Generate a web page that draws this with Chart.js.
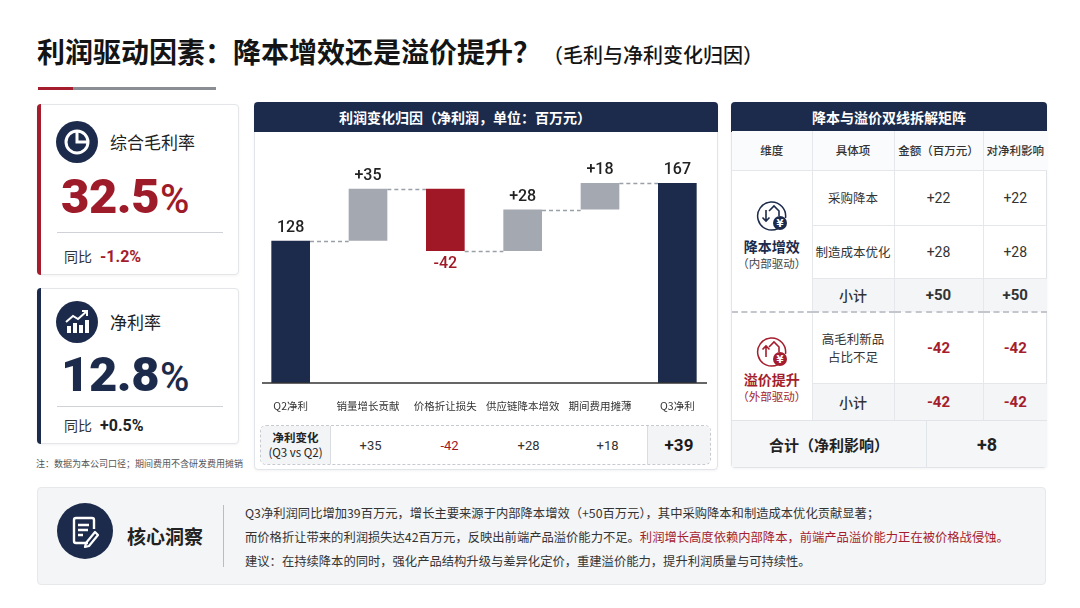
<!DOCTYPE html>
<html lang="zh-CN">
<head>
<meta charset="utf-8">
<script src="https://cdn.jsdelivr.net/npm/chart.js@4.4.1/dist/chart.umd.min.js"></script>
<style>
* { box-sizing: border-box; margin: 0; padding: 0; }
body {
  width: 1080px; height: 608px; background: #fff; position: relative; overflow: hidden;
  font-family: "Noto Sans CJK SC", "Noto Sans", sans-serif; color: #222;
}
.abs { position: absolute; }
.title { left: 37px; top: 31px; font-size: 28px; font-weight: 700; color: #141414; white-space: nowrap; line-height: 40px; }
.title span { font-size: 20px; font-weight: 500; margin-left: 2px; }
.card { background: #fff; border: 1px solid #e4e6ea; border-radius: 4px; box-shadow: 0 1px 3px rgba(0,0,0,.05); }
.card .bar { position: absolute; left: -1px; top: -1px; bottom: -1px; width: 4px; border-radius: 4px 0 0 4px; }
.klabel { font-size: 17px; color: #222; line-height: 22px; }
.kval { font-family: Roboto, Inter, sans-serif; font-weight: 700; line-height: 50px; white-space: nowrap; letter-spacing: -0.5px; }
.kval b { font-size: 49px; }
.kval i { font-style: normal; font-size: 40px; font-weight: 500; margin-left: 1px; }
.kline { height: 1px; background: #cfd2d7; }
.kyoy { font-size: 14px; color: #333; line-height: 20px; white-space: nowrap; }
.kyoy b { font-family: Roboto, Inter, sans-serif; font-size: 16px; margin-left: 8px; }
.note { left: 36px; top: 457px; font-size: 9px; color: #555; white-space: nowrap; }
.panel { border: 1px solid #e1e4e8; border-radius: 4px; background: #fff; box-shadow: 0 1px 3px rgba(0,0,0,.05); }
.phead { position: absolute; left: -1px; right: -1px; top: -1px; height: 30px; background: #1c2b4b; border-radius: 4px 4px 0 0; color: #fff; font-weight: 700; font-size: 14px; line-height: 30px; white-space: nowrap; }
#netrow { left: 260px; top: 425px; width: 451px; height: 40px; border: 1px dashed #c6c9cf; border-radius: 6px; display: flex; overflow: hidden; }
#netrow div { display: flex; align-items: center; justify-content: center; font-family: Roboto, Inter, "Noto Sans CJK SC", sans-serif; font-size: 13px; color: #333; }
#netrow .lab { width: 70px; background: #f3f4f6; border-right: 1px solid #d9dce0; font-family: "Noto Sans CJK SC", sans-serif; font-size: 11.5px; line-height: 15px; text-align: center; flex-direction: column; color: #222; }
#netrow .lab b { font-weight: 700; }
#netrow .tot { width: 63px; background: #f3f4f6; border-left: 1px solid #d9dce0; font-weight: 700; font-size: 17px; color: #1b1b1b; }
#mx { left: 732px; top: 131px; width: 315px; }
#mx table { border-collapse: collapse; width: 315px; table-layout: fixed; }
#mx th, #mx td { border: 1px solid #e5e7ea; text-align: center; vertical-align: middle; font-size: 12.5px; color: #333; padding: 0; }
#mx tr > *:first-child { border-left: none; }
#mx tr > *:last-child { border-right: none; }
#mx th { font-weight: 500; font-size: 11.5px; background: #fafbfc; border-top: none; }
#mx td.num { font-family: Roboto, Inter, sans-serif; font-size: 14px; }
#mx td.b { font-weight: 700; font-size: 15px; }
#mx .sub td { background: #f4f5f7; }
#mx .sub td.lbl { font-size: 14px; font-weight: 500; }
#mx .red { color: #a51d2d; }
#mx td.dim { vertical-align: top; background: #fff; }
#mx tr.g2 td { border-top: 2px dashed #c3c6cc; }
.dname { font-size: 14px; font-weight: 700; line-height: 18px; }
.dsub { font-size: 11.5px; line-height: 16px; color: #444; }
#mxtot { left: 732px; top: 420px; width: 315px; height: 47px; display: flex; border-top: 1px solid #e1e4e8; }
#mxtot div { display: flex; align-items: center; justify-content: center; background: #f5f6f8; }
.insight { left: 37px; top: 487px; width: 1009px; height: 98px; background: #f4f5f7; border: 1px solid #e6e8eb; border-radius: 4px; }
.itext { left: 245px; top: 501px; font-size: 12.3px; line-height: 24px; color: #333; white-space: nowrap; }
.itext .red { color: #a51d2d; }
</style>
</head>
<body>

<div class="abs title">利润驱动因素：降本增效还是溢价提升？<span>（毛利与净利变化归因）</span></div>
<div class="abs" style="left:38px;top:87px;width:35px;height:3px;background:#a51d2d;"></div>
<div class="abs" style="left:73px;top:87px;width:143px;height:3px;background:#8a8d93;"></div>

<!-- KPI cards -->
<div class="abs card" style="left:37px;top:104px;width:202px;height:171px;">
  <div class="bar" style="background:#a51d2d;"></div>
</div>
<svg class="abs" style="left:56px;top:121px;" width="42" height="42" viewBox="0 0 42 42">
  <circle cx="21" cy="21" r="21" fill="#1c2b4b"/>
  <circle cx="21" cy="21" r="11" fill="none" stroke="#fff" stroke-width="3"/>
  <path d="M21 10V21H32" fill="none" stroke="#fff" stroke-width="3"/>
</svg>
<div class="abs klabel" style="left:110px;top:131px;">综合毛利率</div>
<div class="abs kval" style="left:61px;top:172px;color:#9e1b2a;"><b>32.5</b><i>%</i></div>
<div class="abs kline" style="left:57px;top:232px;width:166px;"></div>
<div class="abs kyoy" style="left:64px;top:246px;">同比<b style="color:#a51d2d;">-1.2%</b></div>

<div class="abs card" style="left:37px;top:288px;width:202px;height:156px;">
  <div class="bar" style="background:#1c2b4b;"></div>
</div>
<svg class="abs" style="left:56px;top:301px;" width="42" height="42" viewBox="0 0 42 42">
  <circle cx="21" cy="21" r="21" fill="#1c2b4b"/>
  <rect x="11" y="25" width="4" height="7" fill="#fff"/>
  <rect x="17" y="22" width="4" height="10" fill="#fff"/>
  <rect x="23" y="24" width="4" height="8" fill="#fff"/>
  <rect x="29" y="19" width="4" height="13" fill="#fff"/>
  <path d="M10 21L17 15L22 18L31 10" fill="none" stroke="#fff" stroke-width="2"/>
  <path d="M26 10H31V15" fill="none" stroke="#fff" stroke-width="2"/>
</svg>
<div class="abs klabel" style="left:110px;top:311px;">净利率</div>
<div class="abs kval" style="left:61px;top:350px;color:#1c2b4b;"><b>12.8</b><i>%</i></div>
<div class="abs kline" style="left:57px;top:406px;width:166px;"></div>
<div class="abs kyoy" style="left:64px;top:415px;">同比<b style="color:#222;">+0.5%</b></div>

<div class="abs note">注：数据为本公司口径；期间费用不含研发费用摊销</div>

<!-- waterfall panel -->
<div class="abs panel" style="left:254px;top:102px;width:464px;height:368px;">
  <div class="phead" style="padding-left:85px;">利润变化归因（净利润，单位：百万元）</div>
</div>
<canvas id="wf" class="abs" style="left:252px;top:134px;width:464px;height:279px;"></canvas>
<div class="abs" id="netrow"></div>

<!-- matrix panel -->
<div class="abs panel" style="left:731px;top:102px;width:316px;height:366px;">
  <div class="phead" style="text-align:center;">降本与溢价双线拆解矩阵</div>
</div>
<div class="abs" id="mx">
<table>
  <colgroup><col style="width:80px"><col style="width:82px"><col style="width:89px"><col style="width:64px"></colgroup>
  <tr style="height:39px"><th>维度</th><th>具体项</th><th>金额（百万元）</th><th>对净利影响</th></tr>
  <tr style="height:55px">
    <td rowspan="3" class="dim" style="padding-top:28px;">
      <svg width="32" height="32" viewBox="0 0 32 32" style="display:block;margin:0 auto;">
        <path d="M22 29.5A14 14 0 1 1 29.5 19" fill="none" stroke="#1c2b4b" stroke-width="1.5"/>
        <path d="M10 11V22M6.5 18.5L10 22L13.5 18.5" fill="none" stroke="#1c2b4b" stroke-width="1.6"/>
        <path d="M13 12L18 7L23 12V17" fill="none" stroke="#1c2b4b" stroke-width="1.6"/>
        <circle cx="24" cy="24" r="7" fill="#1c2b4b"/>
        <text x="24" y="27.5" text-anchor="middle" font-size="10" font-weight="700" fill="#fff" font-family="DejaVu Sans">¥</text>
      </svg>
      <div class="dname" style="color:#1c2b4b;margin-top:6px;">降本增效</div>
      <div class="dsub">（内部驱动）</div>
    </td>
    <td>采购降本</td><td class="num">+22</td><td class="num">+22</td>
  </tr>
  <tr style="height:53px"><td>制造成本优化</td><td class="num">+28</td><td class="num">+28</td></tr>
  <tr class="sub" style="height:34px"><td class="lbl">小计</td><td class="num b">+50</td><td class="num b">+50</td></tr>
  <tr class="g2" style="height:71px">
    <td rowspan="2" class="dim" style="padding-top:22px;">
      <svg width="32" height="32" viewBox="0 0 32 32" style="display:block;margin:0 auto;">
        <path d="M22 29.5A14 14 0 1 1 29.5 19" fill="none" stroke="#a51d2d" stroke-width="1.5"/>
        <path d="M10 22V11M6.5 14.5L10 11L13.5 14.5" fill="none" stroke="#a51d2d" stroke-width="1.6"/>
        <path d="M13 12L18 7L23 12V17" fill="none" stroke="#a51d2d" stroke-width="1.6"/>
        <circle cx="24" cy="24" r="7" fill="#a51d2d"/>
        <text x="24" y="27.5" text-anchor="middle" font-size="10" font-weight="700" fill="#fff" font-family="DejaVu Sans">¥</text>
      </svg>
      <div class="dname" style="color:#a51d2d;margin-top:3px;">溢价提升</div>
      <div class="dsub" style="color:#a51d2d;">（外部驱动）</div>
    </td>
    <td style="line-height:18px;">高毛利新品<br>占比不足</td><td class="num b red">-42</td><td class="num b red">-42</td>
  </tr>
  <tr class="sub" style="height:37px"><td class="lbl">小计</td><td class="num b red">-42</td><td class="num b red">-42</td></tr>
</table>
</div>
<div class="abs" id="mxtot">
  <div style="width:195px;font-size:15px;font-weight:700;color:#222;border-right:1px solid #e1e4e8;">合计（净利影响）</div>
  <div style="width:120px;font-family:Roboto,Inter,sans-serif;font-size:18px;font-weight:700;color:#222;">+8</div>
</div>

<!-- insight -->
<div class="abs insight"></div>
<svg class="abs" style="left:57px;top:503px;" width="56" height="56" viewBox="0 0 56 56">
  <circle cx="28" cy="28" r="28" fill="#1c2b4b"/>
  <path d="M31 40H19a2 2 0 0 1-2-2V17a2 2 0 0 1 2-2h16a2 2 0 0 1 2 2v9" fill="none" stroke="#fff" stroke-width="2.4"/>
  <path d="M21 22H32M21 27H31M21 32H26" stroke="#fff" stroke-width="2.4"/>
  <path d="M29 40L38 29L41 32L32 43L28 44Z" fill="none" stroke="#fff" stroke-width="2.2" stroke-linejoin="round"/>
</svg>
<div class="abs" style="left:127px;top:523px;font-size:19px;font-weight:700;color:#222;line-height:26px;">核心洞察</div>
<div class="abs" style="left:223px;top:505px;width:1px;height:62px;background:#b9bcc2;"></div>
<div class="abs itext">
  Q3净利润同比增加39百万元，增长主要来源于内部降本增效（+50百万元），其中采购降本和制造成本优化贡献显著；<br>
  而价格折让带来的利润损失达42百万元，反映出前端产品溢价能力不足。<span class="red">利润增长高度依赖内部降本，前端产品溢价能力正在被价格战侵蚀。</span><br>
  建议：在持续降本的同时，强化产品结构升级与差异化定价，重建溢价能力，提升利润质量与可持续性。
</div>

<script>
// waterfall data (百万元)
const categories = ["Q2净利", "销量增长贡献", "价格折让损失", "供应链降本增效", "期间费用摊薄", "Q3净利"];
const startProfit = 128;
const deltas = [35, -42, 28, 18];
const endProfit = 167;
const netChange = 39;

const Y_MIN = 32;
const Y_MAX = 200;

const NAVY = "#1c2b4b";
const GREY = "#a3a8b1";
const RED = "#a01826";
const FONT = '"Noto Sans CJK SC", "Noto Sans", sans-serif';

// floating ranges + running levels
const ranges = [[Y_MIN, startProfit]];
const levels = [startProfit];
let running = startProfit;
deltas.forEach((d) => {
  const next = running + d;
  ranges.push([Math.min(running, next), Math.max(running, next)]);
  running = next;
  levels.push(running);
});
ranges.push([Y_MIN, endProfit]);
levels.push(endProfit);

const labels = [String(startProfit)]
  .concat(deltas.map((d) => (d > 0 ? "+" + d : String(d))))
  .concat([String(endProfit)]);
const colors = [NAVY].concat(deltas.map((d) => (d > 0 ? GREY : RED))).concat([NAVY]);

const waterfallDecor = {
  id: "waterfallDecor",
  afterDatasetsDraw(chart) {
    const ctx = chart.ctx;
    const bars = chart.getDatasetMeta(0).data;
    const y = chart.scales.y;
    const area = chart.chartArea;

    // connectors
    ctx.save();
    ctx.strokeStyle = "#9aa0a8";
    ctx.lineWidth = 1.3;
    ctx.setLineDash([4, 3]);
    for (let i = 0; i < bars.length - 1; i++) {
      const py = Math.round(y.getPixelForValue(levels[i])) + 0.5;
      ctx.beginPath();
      ctx.moveTo(bars[i].x + bars[i].width / 2, py);
      ctx.lineTo(bars[i + 1].x - bars[i + 1].width / 2, py);
      ctx.stroke();
    }
    ctx.restore();

    // baseline
    ctx.save();
    ctx.strokeStyle = "#333";
    ctx.lineWidth = 1.5;
    ctx.beginPath();
    ctx.moveTo(area.left + 10, area.bottom);
    ctx.lineTo(area.right - 9, area.bottom);
    ctx.stroke();
    ctx.restore();

    // value labels
    ctx.save();
    ctx.font = "500 16px Roboto, Inter, sans-serif";
    ctx.textAlign = "center";
    ctx.textBaseline = "middle";
    bars.forEach((bar, i) => {
      const isNeg = i > 0 && i <= deltas.length && deltas[i - 1] < 0;
      ctx.fillStyle = isNeg ? RED : "#222";
      const top = Math.min(bar.y, bar.base);
      const bottom = Math.max(bar.y, bar.base);
      ctx.fillText(labels[i], bar.x, isNeg ? bottom + 13 : top - 13);
    });
    ctx.restore();
  },
};

const canvas = document.getElementById("wf");
canvas.width = 464;
canvas.height = 279;

new Chart(canvas.getContext("2d"), {
  type: "bar",
  data: {
    labels: categories,
    datasets: [
      {
        data: ranges,
        backgroundColor: colors,
        borderWidth: 0,
        borderSkipped: false,
        barPercentage: 0.5,
        categoryPercentage: 1,
      },
    ],
  },
  options: {
    responsive: false,
    maintainAspectRatio: false,
    animation: false,
    layout: { padding: 0 },
    plugins: {
      legend: { display: false },
      tooltip: { enabled: false },
    },
    scales: {
      x: {
        grid: { display: false },
        border: { display: false },
        ticks: {
          color: "#333",
          padding: 9,
          maxRotation: 0,
          autoSkip: false,
          font: { family: FONT, size: 10.5 },
        },
        afterFit(scale) {
          scale.height = 30;
        },
      },
      y: {
        display: false,
        min: Y_MIN,
        max: Y_MAX,
      },
    },
  },
  plugins: [waterfallDecor],
});

// net change strip under the chart
const netrow = document.getElementById("netrow");
let html = '<div class="lab"><b>净利变化</b><span>(Q3 vs Q2)</span></div>';
deltas.forEach((d) => {
  const color = d < 0 ? RED : "#333";
  html += '<div style="flex:1;color:' + color + ';">' + (d > 0 ? "+" + d : d) + "</div>";
});
html += '<div class="tot">+' + netChange + "</div>";
netrow.innerHTML = html;
</script>
</body>
</html>
